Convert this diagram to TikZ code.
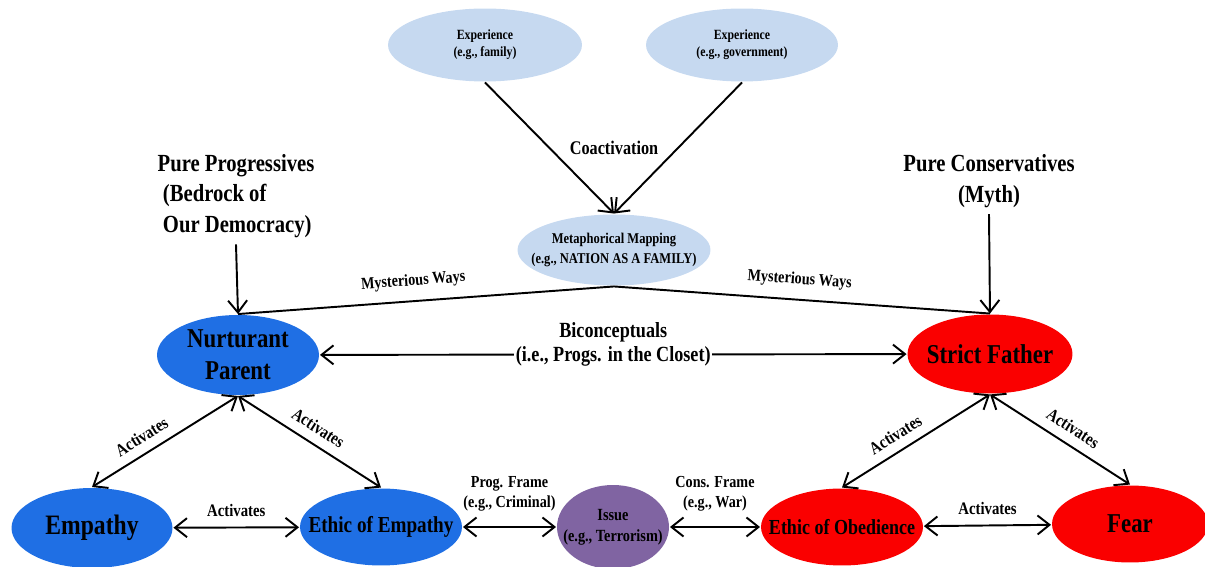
\documentclass[tikz,border=0pt]{standalone}
\usepackage{fontspec}
\setmainfont{Liberation Serif}[FakeStretch=0.84]
\usepackage{tikz}
\usetikzlibrary{arrows.meta,shapes.geometric}
\definecolor{expblue}{RGB}{198,217,240}
\definecolor{progblue}{RGB}{31,111,228}
\definecolor{consred}{RGB}{250,0,0}
\definecolor{issuepurple}{RGB}{128,100,162}
\newcommand*\fsz[2]{\fontsize{#1}{#2}\selectfont}

\begin{document}
\begin{tikzpicture}[x=0.02cm,y=-0.02cm,>={Straight Barb[length=2.4mm,width=3.8mm]},line width=1.1pt,
	idea/.style={shape=ellipse,inner sep=0pt},
	txt/.style={align=center,inner sep=0pt},
	lbl/.style={font=\bfseries\fsz{10}{12}}]
					\useasboundingbox (0,0) rectangle (1205,567);
					\node (exp1) [idea,fill=expblue,minimum width=3.88cm,minimum height=1.46cm,
						label={[txt,font=\bfseries\fsz{8}{9.6}]center:{Experience\\(e.g., family)}}] at (485,45) {};
					\node (exp2) [idea,fill=expblue,minimum width=3.84cm,minimum height=1.46cm,
						label={[txt,font=\bfseries\fsz{8}{9.6}]center:{Experience\\(e.g., government)}}] at (742,45) {};
					\node (coact) [font=\bfseries\fsz{11}{13}] at (614,148) {Coactivation};
					\node (meta) [idea,fill=expblue,minimum width=3.86cm,minimum height=1.42cm,
						label={[txt,font=\bfseries\fsz{8.5}{11}]center:{Metaphorical Mapping\\(e.g., NATION AS A FAMILY)}}] at (614,250) {};
					\node (pp) [align=left,font=\bfseries\fsz{14}{17.3}] at (236,196) {
						Pure Progressives\\\hspace*{3pt}(Bedrock of\\\hspace*{3pt}Our Democracy)
					};
					\node (pc) [align=center,font=\bfseries\fsz{14}{17.3}] at (989,181) {
						Pure Conservatives\\(Myth)
					};
					\node (np) [idea,fill=progblue,minimum width=3.24cm,minimum height=1.6cm,
						label={[txt,font=\bfseries\fsz{15.5}{18}]center:{Nurturant\\Parent}}] at (238,355) {};
					\node (sf) [idea,fill=consred,minimum width=3.3cm,minimum height=1.58cm,
						label={[txt,font=\bfseries\fsz{15.5}{18}]center:{Strict Father}}] at (990,354) {};
					\node (emp) [idea,fill=progblue,minimum width=3.22cm,minimum height=1.6cm,
						label={[txt,font=\bfseries\fsz{16}{19}]center:{Empathy}}] at (92,528) {};
					\node (eoe) [idea,fill=progblue,minimum width=3.24cm,minimum height=1.54cm,
						label={[txt,font=\bfseries\fsz{13}{15}]center:{Ethic of Empathy}}] at (381,527) {};
					\node (issue) [idea,fill=issuepurple,minimum width=2.24cm,minimum height=1.68cm,
						label={[txt,font=\bfseries\fsz{9.7}{12}]center:{Issue\\(e.g., Terrorism)}}] at (613,527) {};
					\node (eoo) [idea,fill=consred,minimum width=3.24cm,minimum height=1.54cm,
						label={[txt,font=\bfseries\fsz{12.2}{14}]center:{Ethic of Obedience}}] at (842,527) {};
					\node (fear) [idea,fill=consred,minimum width=3.12cm,minimum height=1.54cm,
						label={[txt,font=\bfseries\fsz{15.5}{18}]center:{Fear}}] at (1130,524) {};

					\path[->](exp1.south) edge (meta.north);
					\path[->](exp2.south) edge (meta.north);
					\path[->](pp.south) edge (np.north);
					\path[->](pc.south) edge (sf.north);
					\draw (np.north) -- node [lbl,font=\bfseries\fsz{9.6}{11},sloped,above=3pt,pos=0.47] {Mysterious Ways} (meta.south)
						-- node [lbl,font=\bfseries\fsz{9.6}{11},sloped,above=3pt,pos=0.49] {Mysterious Ways} (sf.north);
					\path[<->](np) edge node [fill=white,inner xsep=1pt,inner ysep=0pt,yshift=0.2cm,align=center,font=\bfseries\fsz{12.3}{14}] {Biconceptuals\\(i.e., Progs. in the Closet)} (sf);
					\path[<->](np.south) edge node [lbl,sloped,above=2pt,pos=0.6] {Activates} (emp.north);
					\path[<->](np.south) edge node [lbl,sloped,above=2pt,pos=0.5] {Activates} (eoe.north);
					\path[<->](sf.south) edge node [lbl,sloped,above=2pt,pos=0.58] {Activates} (eoo.north);
					\path[<->](sf.south) edge node [lbl,sloped,above=2pt,pos=0.53] {Activates} (fear.north);
					\path[<->](emp) edge node [lbl,above=2pt] {Activates} (eoe);
					\path[<->](eoo) edge node [lbl,above=2pt] {Activates} (fear);
					\path[<->](eoe) edge node [lbl,above=5pt,align=center,font=\bfseries\fsz{9.6}{11.3}] {Prog. Frame\\(e.g., Criminal)} (issue);
					\path[<->](issue) edge node [lbl,above=5pt,align=center,font=\bfseries\fsz{9.6}{11.3}] {Cons. Frame\\(e.g., War)} (eoo);
				\end{tikzpicture}
\end{document}
